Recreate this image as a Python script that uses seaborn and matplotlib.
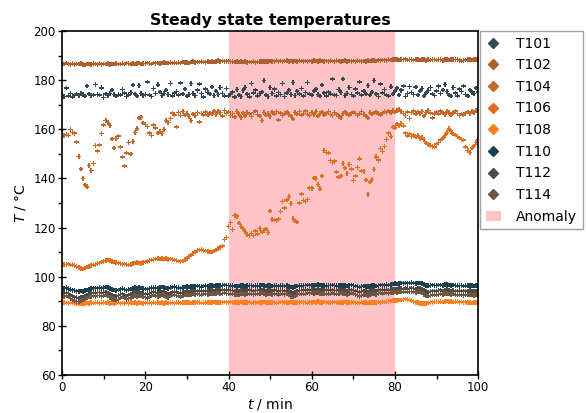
import matplotlib
matplotlib.use("Agg")
import matplotlib.pyplot as plt
from matplotlib.lines import Line2D
from matplotlib.patches import Patch
import numpy as np
import pandas as pd
import seaborn as sns

# sensor readings, one every 0.5 min from 0 to 100 min
T101 = [174.2, 173.4, 176.8, 173.6, 174.5, 173.2, 174.0, 174.3, 173.8, 174.6,
        174.1, 173.5, 177.6, 174.4, 173.7, 174.0, 178.2, 174.2, 173.9, 176.9,
        173.0, 174.4, 173.8, 174.5, 176.0, 174.1, 173.6, 174.2, 173.9, 176.2,
        174.8, 173.4, 174.0, 175.0, 178.0, 174.3, 173.5, 177.8, 174.6, 173.8,
        174.2, 179.3, 173.9, 173.4, 176.5, 174.5, 178.1, 175.2, 173.7, 174.6,
        176.0, 174.2, 178.6, 173.6, 174.8, 175.4, 173.9, 178.8, 174.3, 176.4,
        173.5, 174.1, 178.7, 174.5, 173.8, 175.9, 178.5, 174.6, 173.2, 176.3,
        174.9, 174.4, 177.2, 173.8, 175.5, 174.1, 177.0, 174.6, 173.6, 176.6,
        173.5, 174.4, 175.2, 173.1, 176.2, 174.0, 173.4, 175.8, 177.0, 174.3,
        173.2, 178.6, 174.8, 176.0, 173.5, 174.6, 175.2, 179.8, 174.0, 173.3,
        177.0, 174.5, 176.3, 173.6, 175.0, 174.2, 178.7, 173.4, 174.8, 176.0,
        174.1, 179.1, 173.8, 175.5, 174.3, 176.6, 173.5, 174.9, 179.0, 174.4,
        173.9, 175.6, 176.3, 174.2, 173.6, 178.0, 174.8, 173.5, 175.1, 174.3,
        180.4, 174.0, 173.7, 176.2, 175.0, 180.4, 173.8, 174.5, 177.0, 174.2,
        173.6, 176.4, 174.8, 179.2, 173.9, 175.6, 174.4, 177.8, 174.0, 175.2,
        179.8, 174.3, 173.4, 178.4, 174.8, 176.1, 174.0, 173.5, 177.3, 174.4,
        175.5, 176.8, 174.0, 175.9, 177.6, 173.4, 174.6, 177.4, 175.0, 174.2,
        177.2, 174.0, 175.6, 176.5, 173.5, 174.8, 175.8, 177.0, 174.3, 173.7,
        175.5, 177.5, 174.6, 176.0, 178.2, 175.4, 174.0, 173.5, 177.0, 174.8,
        173.6, 176.3, 175.4, 177.6, 174.2, 173.5, 176.0, 175.0, 174.6, 176.8,
        175.2]

T102 = [186.8, 186.6, 186.9, 186.5, 186.4, 186.7, 186.3, 186.6, 186.5, 186.8,
        186.4, 186.2, 186.6, 186.5, 186.3, 186.7, 186.5, 186.4, 186.8, 186.3,
        186.6, 186.5, 186.7, 186.4, 186.6, 186.5, 186.8, 186.6, 186.5, 186.7,
        186.6, 186.9, 186.7, 186.5, 186.8, 186.6, 186.7, 186.9, 186.6, 186.8,
        186.7, 187.0, 186.8, 186.6, 186.9, 186.8, 187.0, 186.7, 186.9, 187.1,
        186.9, 187.0, 187.2, 186.9, 187.1, 187.0, 187.2, 187.0, 187.3, 187.1,
        187.2, 187.0, 187.3, 187.5, 187.2, 187.4, 187.3, 187.6, 187.4, 187.2,
        187.5, 187.4, 187.6, 187.3, 187.7, 187.9, 187.6, 187.8, 187.7, 187.6,
        187.7, 187.5, 187.6, 187.4, 187.5, 187.3, 187.6, 187.4, 187.5, 187.2,
        187.4, 187.3, 187.5, 187.2, 187.4, 187.6, 187.5, 187.7, 187.5, 187.6,
        187.8, 187.6, 187.7, 187.9, 187.7, 187.8, 187.6, 187.8, 187.9, 187.7,
        187.8, 187.6, 187.8, 187.7, 187.9, 187.8, 187.7, 187.8, 187.6, 187.8,
        187.7, 187.9, 187.8, 187.7, 187.9, 187.8, 187.6, 187.8, 187.7, 187.9,
        187.8, 187.7, 187.9, 187.8, 187.7, 187.8, 187.9, 187.7, 187.8, 187.6,
        187.8, 187.7, 187.9, 187.8, 187.6, 187.8, 187.7, 187.9, 187.8, 187.9,
        188.0, 187.8, 188.1, 187.9, 188.2, 188.0, 188.1, 188.3, 188.2, 188.4,
        188.3, 188.5, 188.2, 188.4, 188.3, 188.5, 188.2, 188.4, 188.3, 188.2,
        188.4, 188.3, 188.2, 188.4, 188.3, 188.1, 188.3, 188.2, 188.4, 188.3,
        188.2, 188.4, 188.3, 188.1, 188.3, 188.4, 188.2, 188.5, 188.3, 188.4,
        188.3, 188.1, 187.8, 188.0, 188.2, 188.3, 188.4, 188.2, 188.5, 188.4,
        188.3]

T104 = [157.8, 157.5, 157.9, 157.4, 160.0, 158.6, 158.4, 154.8, 149.0, 143.8,
        140.0, 137.3, 136.6, 145.2, 143.2, 146.0, 153.4, 151.2, 153.6, 158.2,
        161.7, 163.6, 162.8, 161.5, 156.0, 152.4, 156.2, 157.2, 152.8, 148.7,
        145.0, 150.3, 154.6, 150.0, 155.0, 158.6, 160.2, 164.6, 164.9, 162.5,
        162.0, 161.2, 158.4, 157.4, 161.8, 160.6, 158.5, 159.0, 158.2, 160.0,
        163.5, 162.8, 164.4, 166.6, 165.8, 161.0, 166.8, 165.6, 167.2, 165.8,
        166.4, 165.2, 163.6, 166.2, 165.6, 166.8, 163.0, 166.4, 165.8, 167.0,
        165.8, 166.6, 166.2, 167.4, 166.0, 167.2, 166.8, 165.4, 167.6, 166.4,
        167.0, 165.6, 166.4, 165.0, 167.2, 166.0, 164.8, 166.6, 165.4, 166.8,
        166.2, 165.2, 166.8, 167.4, 166.0, 165.4, 163.6, 166.8, 165.8, 166.4,
        165.2, 167.0, 166.2, 167.2, 163.8, 166.6, 165.6, 166.2, 167.0, 166.0,
        165.4, 164.2, 166.8, 166.2, 167.2, 165.8, 166.4, 167.4, 166.0, 165.6,
        166.8, 166.0, 167.2, 165.4, 166.4, 167.0, 165.8, 166.6, 167.2, 166.0,
        165.6, 166.8, 166.2, 165.2, 164.8, 166.4, 167.0, 166.2, 165.8, 166.6,
        167.0, 166.4, 165.6, 166.2, 167.2, 166.0, 165.4, 164.6, 166.8, 166.2,
        166.6, 167.0, 166.2, 165.8, 166.6, 167.2, 166.8, 167.4, 166.6, 167.6,
        167.0, 167.6, 168.0, 167.2, 166.4, 165.6, 167.0, 164.4, 166.8, 167.4,
        166.2, 167.0, 166.4, 167.2, 165.4, 166.8, 167.6, 166.6, 164.6, 166.2,
        167.0, 166.2, 167.4, 166.6, 166.0, 167.2, 166.8, 165.8, 166.6, 167.4,
        166.4, 165.6, 166.2, 165.8, 166.6, 167.0, 166.4, 167.2, 166.8, 167.6,
        167.8]

T106 = [104.8, 105.0, 104.9, 105.1, 104.8, 105.0, 104.6, 104.2, 103.8, 103.4,
        103.2, 103.5, 103.9, 104.2, 104.5, 104.8, 105.0, 105.3, 105.6, 106.0,
        106.3, 106.6, 106.8, 106.5, 106.2, 106.0, 105.7, 105.5, 105.3, 105.0,
        105.2, 105.0, 104.8, 105.0, 105.3, 105.6, 105.8, 105.6, 105.4, 105.7,
        106.0, 106.3, 106.6, 106.8, 107.0, 107.2, 107.3, 107.2, 107.3, 107.2,
        107.3, 107.1, 107.2, 107.0, 106.8, 106.6, 106.4, 106.2, 106.4, 106.9,
        107.5, 108.2, 108.8, 109.4, 110.0, 110.6, 110.9, 111.0, 110.7, 110.4,
        110.2, 110.0, 110.1, 110.5, 110.9, 111.4, 112.0, 112.5, 115.2, 116.0,
        120.5, 122.0, 119.2, 125.0, 124.6, 121.8, 120.4, 119.6, 118.4, 117.2,
        116.8, 117.6, 116.8, 118.6, 117.4, 119.6, 118.2, 118.8, 119.4, 118.0,
        126.8, 123.2, 123.0, 122.8, 123.4, 126.6, 130.6, 128.0, 131.2, 132.6,
        129.8, 123.6, 122.6, 122.2, 130.0, 133.6, 131.0, 130.6, 131.4, 136.0,
        136.0, 140.2, 140.0, 137.6, 135.8, 141.0, 151.4, 150.6, 150.4, 147.2,
        146.4, 147.0, 142.6, 140.6, 141.0, 146.0, 144.2, 142.0, 145.6, 143.8,
        139.2, 141.0, 144.4, 148.0, 143.0, 142.8, 139.4, 133.4, 138.6, 139.6,
        143.6, 148.8, 147.4, 152.2, 151.0, 153.0, 155.8, 158.4, 157.0, 161.0,
        160.6, 162.2, 161.6, 162.4, 161.4, 158.4, 157.2, 158.0, 157.0, 157.6,
        156.8, 157.4, 156.2, 156.6, 155.8, 154.4, 154.0, 153.2, 153.0, 152.8,
        154.0, 154.6, 155.6, 156.4, 157.4, 158.6, 160.2, 159.2, 158.0, 157.6,
        157.0, 156.4, 155.8, 155.6, 152.8, 151.4, 150.6, 152.4, 153.2, 154.6,
        155.8]

T108 = [89.2, 89.4, 89.3, 89.1, 89.3, 89.4, 89.2, 89.0, 88.9, 89.1,
        89.0, 89.2, 89.3, 89.1, 89.4, 89.3, 89.5, 89.4, 89.2, 89.4,
        89.5, 89.3, 89.4, 89.2, 89.3, 89.1, 89.3, 89.4, 89.2, 89.3,
        89.1, 89.3, 89.2, 89.4, 89.3, 89.5, 89.2, 89.4, 89.3, 89.1,
        89.3, 89.5, 89.4, 89.2, 89.4, 89.3, 89.5, 89.3, 89.4, 89.2,
        89.4, 89.3, 89.5, 89.4, 89.2, 89.4, 89.5, 89.3, 89.4, 89.6,
        89.4, 89.5, 89.3, 89.5, 89.4, 89.6, 89.5, 89.3, 89.5, 89.4,
        89.6, 89.4, 89.5, 89.7, 89.5, 89.4, 89.6, 89.5, 89.7, 89.6,
        89.5, 89.7, 89.6, 89.4, 89.6, 89.5, 89.7, 89.6, 89.4, 89.6,
        89.5, 89.3, 89.5, 89.6, 89.4, 89.6, 89.5, 89.7, 89.5, 89.6,
        89.4, 89.6, 89.5, 89.3, 89.5, 89.7, 89.6, 89.4, 89.6, 89.5,
        89.7, 89.5, 89.4, 89.6, 89.5, 89.7, 89.6, 89.5, 89.4, 89.6,
        89.5, 89.7, 89.6, 89.8, 89.6, 89.5, 89.7, 89.6, 89.4, 89.6,
        89.5, 89.7, 89.6, 89.4, 89.6, 89.5, 89.7, 89.6, 89.5, 89.4,
        89.6, 89.5, 89.3, 89.5, 89.4, 89.6, 89.5, 89.3, 89.5, 89.4,
        89.6, 89.5, 89.7, 89.6, 89.8, 89.7, 89.9, 90.0, 90.1, 90.2,
        90.3, 90.4, 90.6, 90.5, 90.8, 91.0, 90.7, 90.5, 90.2, 89.9,
        89.6, 89.4, 89.2, 89.1, 89.0, 89.2, 89.3, 89.5, 89.6, 89.8,
        89.9, 90.0, 89.8, 89.7, 89.9, 90.1, 90.0, 89.8, 89.7, 89.9,
        89.8, 89.6, 89.7, 89.5, 89.6, 89.4, 89.5, 89.3, 89.5, 89.6,
        89.7]

T110 = [95.4, 95.2, 95.5, 95.1, 94.7, 94.5, 94.3, 94.1, 94.0, 94.2,
        94.1, 94.3, 94.6, 94.9, 95.1, 95.3, 95.2, 95.4, 95.6, 95.3,
        95.5, 95.8, 95.6, 95.2, 94.9, 94.6, 94.4, 94.6, 94.9, 95.1,
        94.8, 94.5, 94.7, 95.0, 95.3, 95.5, 95.3, 95.6, 95.4, 95.2,
        95.0, 94.9, 95.2, 95.5, 95.7, 95.5, 95.3, 95.6, 95.8, 95.6,
        95.4, 95.2, 95.5, 95.8, 95.9, 95.7, 95.5, 95.3, 95.6, 95.8,
        96.0, 95.8, 95.9, 96.1, 96.0, 96.2, 96.1, 95.9, 96.2, 96.3,
        96.1, 96.3, 96.4, 96.2, 96.4, 96.5, 96.3, 96.5, 96.6, 96.4,
        96.5, 96.3, 96.4, 96.2, 96.0, 96.2, 96.4, 96.3, 96.1, 96.3,
        96.5, 96.4, 96.2, 96.4, 96.3, 96.5, 96.6, 96.4, 96.2, 96.3,
        96.4, 96.2, 96.5, 96.3, 96.1, 96.3, 96.4, 96.2, 96.3, 96.1,
        95.8, 95.6, 95.9, 96.2, 96.4, 96.3, 96.5, 96.4, 96.6, 96.5,
        96.7, 96.5, 96.6, 96.8, 96.6, 96.4, 96.5, 96.3, 96.5, 96.4,
        96.6, 96.4, 96.3, 96.5, 96.7, 96.5, 96.3, 96.2, 96.4, 96.6,
        96.4, 96.2, 96.0, 95.8, 96.0, 96.2, 96.1, 95.9, 96.1, 96.3,
        96.4, 96.2, 96.5, 96.6, 96.4, 96.7, 96.8, 96.6, 96.9, 97.0,
        97.2, 97.1, 97.3, 97.4, 97.2, 97.5, 97.3, 97.4, 97.6, 97.5,
        97.3, 97.5, 97.4, 97.2, 96.8, 96.5, 96.3, 96.4, 96.6, 96.5,
        96.4, 96.6, 96.7, 96.5, 96.8, 96.9, 96.7, 96.5, 96.6, 96.4,
        96.3, 96.5, 96.4, 96.2, 96.4, 96.3, 96.5, 96.4, 96.2, 96.4,
        96.3]

T112 = [93.4, 93.2, 93.5, 93.1, 92.6, 92.1, 91.7, 91.5, 91.4, 91.6,
        91.8, 92.2, 92.6, 92.9, 93.2, 93.4, 93.3, 93.5, 93.6, 93.3,
        93.5, 93.7, 93.4, 93.0, 92.6, 92.2, 92.0, 92.3, 92.7, 93.0,
        92.6, 92.2, 92.5, 92.9, 93.3, 93.5, 93.3, 93.6, 93.4, 93.1,
        92.9, 92.7, 93.1, 93.5, 93.7, 93.5, 93.3, 93.6, 93.8, 93.6,
        93.3, 93.0, 93.4, 93.8, 93.9, 93.7, 93.4, 93.1, 93.5, 93.8,
        94.0, 93.8, 93.9, 94.1, 94.0, 94.2, 94.1, 93.9, 94.2, 94.3,
        94.1, 94.3, 94.4, 94.2, 94.4, 94.5, 94.3, 94.5, 94.6, 94.4,
        94.5, 94.3, 94.4, 94.2, 94.0, 94.2, 94.4, 94.3, 94.1, 94.3,
        94.5, 94.4, 94.2, 94.4, 94.3, 94.5, 94.6, 94.4, 94.2, 94.3,
        94.4, 94.2, 94.5, 94.3, 94.1, 94.3, 94.4, 94.2, 94.3, 94.1,
        93.6, 93.3, 93.7, 94.1, 94.4, 94.3, 94.5, 94.4, 94.6, 94.5,
        94.7, 94.5, 94.6, 94.8, 94.6, 94.4, 94.5, 94.3, 94.5, 94.4,
        94.6, 94.4, 94.3, 94.5, 94.7, 94.5, 94.3, 94.2, 94.4, 94.6,
        94.4, 94.2, 93.9, 93.6, 93.9, 94.2, 94.1, 93.8, 94.1, 94.3,
        94.4, 94.2, 94.5, 94.6, 94.4, 94.7, 94.8, 94.6, 94.8, 94.9,
        95.0, 94.9, 95.1, 95.2, 95.0, 95.3, 95.1, 95.2, 95.3, 95.2,
        95.0, 95.2, 95.1, 94.8, 94.3, 93.9, 93.7, 93.9, 94.2, 94.1,
        94.0, 94.3, 94.5, 94.2, 94.6, 94.7, 94.5, 94.2, 94.4, 94.1,
        94.0, 94.3, 94.1, 93.9, 94.2, 94.0, 94.3, 94.2, 93.9, 94.2,
        94.0]

T114 = [92.2, 92.0, 92.3, 91.8, 91.2, 90.6, 90.2, 90.0, 89.9, 90.2,
        90.5, 90.9, 91.4, 91.7, 92.0, 92.2, 92.0, 92.3, 92.4, 92.0,
        92.2, 92.5, 92.1, 91.6, 91.1, 90.7, 90.5, 90.8, 91.3, 91.7,
        91.3, 90.8, 91.1, 91.6, 92.0, 92.3, 92.0, 92.4, 92.1, 91.8,
        91.6, 91.4, 91.8, 92.2, 92.5, 92.2, 92.0, 92.3, 92.6, 92.3,
        92.0, 91.6, 92.1, 92.5, 92.7, 92.4, 92.1, 91.8, 92.2, 92.5,
        92.7, 92.5, 92.6, 92.9, 92.7, 93.0, 92.8, 92.6, 92.9, 93.0,
        92.8, 93.0, 93.2, 92.9, 93.1, 93.3, 93.0, 93.2, 93.4, 93.1,
        93.2, 92.9, 93.1, 92.8, 92.5, 92.8, 93.1, 92.9, 92.7, 92.9,
        93.2, 93.0, 92.8, 93.1, 92.9, 93.2, 93.3, 93.0, 92.8, 92.9,
        93.0, 92.8, 93.1, 92.9, 92.6, 92.9, 93.0, 92.8, 92.9, 92.6,
        92.0, 91.7, 92.2, 92.7, 93.0, 92.9, 93.2, 93.0, 93.3, 93.1,
        93.4, 93.1, 93.3, 93.5, 93.2, 93.0, 93.2, 92.9, 93.1, 93.0,
        93.3, 93.0, 92.9, 93.2, 93.4, 93.1, 92.9, 92.7, 93.0, 93.3,
        93.0, 92.8, 92.4, 92.0, 92.4, 92.8, 92.6, 92.3, 92.7, 92.9,
        93.1, 92.8, 93.2, 93.3, 93.0, 93.4, 93.5, 93.2, 93.5, 93.6,
        93.7, 93.6, 93.8, 93.9, 93.7, 94.0, 93.8, 93.9, 94.0, 93.8,
        93.6, 93.8, 93.7, 93.3, 92.7, 92.3, 92.1, 92.4, 92.7, 92.6,
        92.5, 92.8, 93.0, 92.7, 93.1, 93.2, 93.0, 92.7, 92.9, 92.6,
        92.5, 92.8, 92.6, 92.3, 92.7, 92.5, 92.8, 92.6, 92.3, 92.7,
        92.5]

sensors = ["T101", "T102", "T104", "T106", "T108", "T110", "T112", "T114"]
series = [T101, T102, T104, T106, T108, T110, T112, T114]
colors = ["#37474f", "#b0602c", "#c8692a", "#e07020", "#ff7f1e",
          "#1c3f52", "#4f4a42", "#6e5642"]
anomaly = (40, 80)

frames = []
for name, vals in zip(sensors, series):
    frames.append(pd.DataFrame({"t": np.linspace(0, 100, len(vals)),
                                "T": vals, "sensor": name}))
df = pd.concat(frames, ignore_index=True)

fig = plt.figure(figsize=(5.86, 4.13), dpi=100)
ax = fig.add_axes([0.106, 0.092, 0.710, 0.833])

ax.axvspan(*anomaly, color="#ffc4c8", lw=0, zorder=0)
sns.scatterplot(data=df, x="t", y="T", hue="sensor", hue_order=sensors,
                palette=colors, marker="P", s=11, linewidth=0, legend=False,
                ax=ax, zorder=2)

ax.set_xlim(0, 100)
ax.set_ylim(60, 200)
ax.set_xticks(np.arange(0, 101, 20))
ax.set_xticks(np.arange(10, 100, 20), minor=True)
ax.set_yticks(np.arange(60, 201, 20))
ax.set_yticks(np.arange(70, 200, 20), minor=True)
ax.tick_params(which="major", direction="inout", length=6, width=1,
               labelsize=8.5, pad=1.5)
ax.tick_params(which="minor", direction="out", length=3, width=1)
for sp in ax.spines.values():
    sp.set_linewidth(1.2)

ax.set_xlabel("$t$ / min", fontsize=10, labelpad=1)
ax.set_ylabel("$T$ / °C", fontsize=10)
ax.set_title("Steady state temperatures", fontsize=11.3, fontweight="bold",
             pad=4)

handles = [Line2D([], [], marker="D", linestyle="", color=c, markersize=5)
           for c in colors]
handles.append(Patch(facecolor="#ffc4c8", edgecolor="none"))
leg = ax.legend(handles, sensors + ["Anomaly"], loc="upper left",
                bbox_to_anchor=(1.005, 1.0), borderaxespad=0, fontsize=10,
                fancybox=False, edgecolor="#888888", labelspacing=0.55,
                handlelength=1.1, handletextpad=1.1)
leg.get_frame().set_linewidth(1.0)

fig.savefig("out.png", dpi=100)
